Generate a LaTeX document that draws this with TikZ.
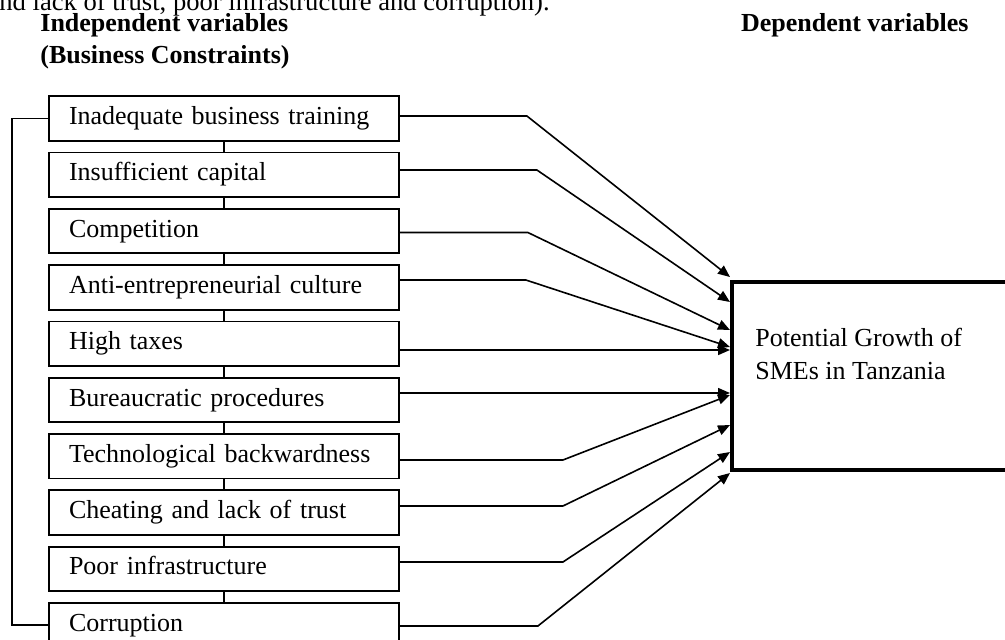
\documentclass[tikz,border=0pt]{standalone}
\usepackage{fontspec}
\setmainfont{Liberation Serif}
\usetikzlibrary{positioning,calc,arrows.meta}

\begin{document}
\begin{tikzpicture}[x=0.5pt,y=-0.5pt,
	box/.style={draw=black,line width=0.9pt,minimum height=22.25pt,minimum width=175pt,text width=155pt,inner xsep=10pt,align=left,text height=9pt,text depth=3pt,font=\fontsize{13}{15}\selectfont},
	head/.style={anchor=base west,inner sep=0pt,font=\fontsize{13}{15}\selectfont\bfseries},
	link/.style={line width=0.8pt},
	arr/.style={line width=0.8pt,-{Triangle[length=6pt,width=5pt]}}]
	\useasboundingbox (0,0) rectangle (1005,639);
	\clip (0,0) rectangle (1005,639);
	
	\node[anchor=base west,inner sep=0pt,font=\fontsize{13.3}{15}\selectfont] (intro) at (-1,10) {nd lack of trust, poor infrastructure and corruption).};
	
	\node[head] (indep) at (40,31.7) {Independent variables};
	\node[head] (constr) at (40,63.3) {(Business Constraints)};
	\node[head,anchor=base east] (dep) at (969,31.7) {Dependent variables};
	
	\node[box] (train) at (224,118.5) {Inadequate business training};
	\node[box,below=5pt of train] (capital) {Insufficient capital};
	\node[box,below=5pt of capital] (compet) {Competition};
	\node[box,below=5pt of compet] (culture) {Anti-entrepreneurial culture};
	\node[box,below=5pt of culture] (taxes) {High taxes};
	\node[box,below=5pt of taxes] (bureau) {Bureaucratic procedures};
	\node[box,below=5pt of bureau] (techno) {Technological backwardness};
	\node[box,below=5pt of techno] (cheat) {Cheating and lack of trust};
	\node[box,below=5pt of cheat] (infra) {Poor infrastructure};
	\node[box,below=5pt of infra] (corrupt) {Corruption};
	
	\foreach \a/\b in {train/capital,capital/compet,compet/culture,culture/taxes,taxes/bureau,bureau/techno,techno/cheat,cheat/infra,infra/corrupt}
		\draw[link] (\a) -- (\b);
	\draw[link] (train.west) -- ++(-36,0) |- (corrupt.west);
	
	\node[draw=black,line width=2pt,minimum width=160pt,minimum height=94pt,anchor=north west] (growth) at (730,280) {};
	\node[anchor=base west,align=left,inner sep=0pt,font=\fontsize{13}{16.3}\selectfont] (gtext) at (755,379.3) {Potential Growth of\\SMEs in Tanzania};
	
	% source, shift, straight part, tip on the box
	\foreach \src/\dy/\len/\tip in {train/-2.5/127/-3,capital/-4.8/137/22,compet/1.4/128/50,culture/-7.4/126/67,taxes/6.3/100/70,bureau/-7/100/113,techno/3.7/163/115,cheat/-6.6/163/145,infra/-6.9/163/172,corrupt/0.8/138/193}
		\draw[arr] ($(\src.east)+(0,\dy)$) -- ++(\len,0) -- ($(growth.north west)+(0,\tip)$);
\end{tikzpicture}
\end{document}
